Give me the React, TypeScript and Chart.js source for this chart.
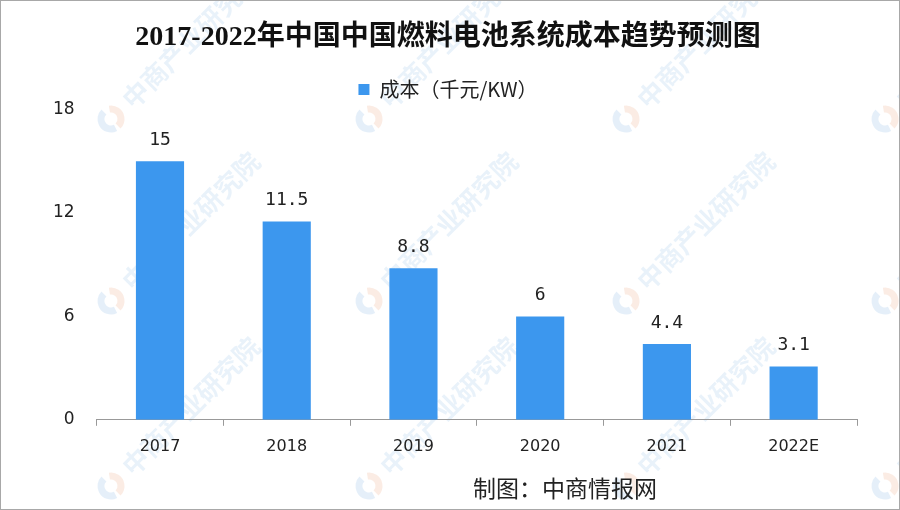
import React, { useEffect, useRef } from "react";
import { Chart, registerables } from "chart.js";

Chart.register(...registerables);

const categories = ["2017", "2018", "2019", "2020", "2021", "2022E"];
const costValues = [15, 11.5, 8.8, 6, 4.4, 3.1];
const valueLabels = ["15", "11.5", "8.8", "6", "4.4", "3.1"];
const yTicks = [0, 6, 12, 18];
const titleText = "2017-2022年中国中国燃料电池系统成本趋势预测图";
const seriesName = "成本（千元/KW）";
const footerText = "制图：中商情报网";
const watermarkText = "中商产业研究院";

const BAR_COLOR = "#3c97ee";

const labelPlugin = {
  id: "barLabels",
  afterDatasetsDraw(chart: any) {
    const ctx = chart.ctx;
    const meta = chart.getDatasetMeta(0);
    ctx.save();
    ctx.font = '18px "DejaVu Sans Mono", "Noto Sans CJK SC", monospace';
    ctx.fillStyle = "#222";
    ctx.textAlign = "center";
    ctx.textBaseline = "bottom";
    meta.data.forEach((bar: any, i: number) => {
      ctx.fillText(valueLabels[i], bar.x, bar.y - 12);
    });
    ctx.restore();
  },
};

const footerPlugin = {
  id: "footerText",
  afterDraw(chart: any) {
    const ctx = chart.ctx;
    ctx.save();
    ctx.font = '23px "Noto Sans CJK SC", sans-serif';
    ctx.fillStyle = "#222";
    ctx.textAlign = "left";
    ctx.textBaseline = "middle";
    ctx.fillText(footerText, 472, 487);
    ctx.restore();
  },
};

const watermarkPlugin = {
  id: "watermark",
  beforeDraw(chart: any) {
    const ctx = chart.ctx;
    const xs = [110, 368, 625, 884];
    const ys = [118, 300, 485];
    ctx.save();
    ys.forEach((y) => {
      xs.forEach((x) => {
        ctx.save();
        ctx.translate(x, y);
        ctx.globalAlpha = 0.16;
        ctx.lineWidth = 7;
        ctx.beginPath();
        ctx.arc(0, 0, 10, Math.PI * 0.35, Math.PI * 1.25);
        ctx.strokeStyle = "#5b9bd8";
        ctx.stroke();
        ctx.beginPath();
        ctx.arc(0, 0, 10, Math.PI * 1.45, Math.PI * 0.25 + Math.PI * 2);
        ctx.strokeStyle = "#e8875a";
        ctx.stroke();
        ctx.rotate(-Math.PI / 4);
        ctx.globalAlpha = 0.12;
        ctx.fillStyle = "#4a90d9";
        ctx.font = 'bold 26px "Noto Sans CJK SC", sans-serif';
        ctx.textBaseline = "middle";
        ctx.textAlign = "left";
        ctx.fillText(watermarkText, 22, 0);
        ctx.restore();
      });
    });
    ctx.restore();
  },
};

export default function App() {
  const ref = useRef<HTMLCanvasElement | null>(null);

  useEffect(() => {
    document.body.style.margin = "0";
    if (!ref.current) return;
    const chart = new Chart(ref.current, {
      type: "bar",
      data: {
        labels: categories,
        datasets: [
          {
            label: seriesName,
            data: costValues,
            backgroundColor: BAR_COLOR,
            barPercentage: 0.38,
            categoryPercentage: 1,
          },
        ],
      },
      options: {
        animation: false,
        responsive: false,
        maintainAspectRatio: false,
        layout: { padding: { left: 38, right: 42, top: 0, bottom: 42 } },
        plugins: {
          title: {
            display: true,
            text: titleText,
            color: "#111",
            font: { family: '"Liberation Serif", "Noto Sans CJK SC", serif', size: 28, weight: "bold" },
            padding: { top: 20, bottom: 15 },
          },
          legend: {
            display: true,
            labels: {
              boxWidth: 11,
              boxHeight: 11,
              color: "#222",
              font: { family: '"Noto Sans CJK SC", sans-serif', size: 20 },
              padding: 10,
            },
          },
          tooltip: { enabled: false },
        },
        scales: {
          x: {
            offset: true,
            grid: {
              display: true,
              offset: true,
              drawOnChartArea: false,
              drawTicks: true,
              tickLength: 6,
              color: "#999",
            },
            border: { display: true, color: "#999" },
            ticks: {
              color: "#222",
              font: { family: '"DejaVu Sans", sans-serif', size: 16 },
              padding: 11,
            },
          },
          y: {
            min: 0,
            max: 18,
            afterBuildTicks(axis: any) {
              axis.ticks = yTicks.map((v) => ({ value: v }));
            },
            grid: { display: false },
            border: { display: false },
            ticks: {
              color: "#222",
              font: { family: '"DejaVu Sans", sans-serif', size: 17 },
              padding: 14,
            },
          },
        },
      },
      plugins: [watermarkPlugin, labelPlugin, footerPlugin],
    });
    return () => chart.destroy();
  }, []);

  return (
    <div
      style={{
        position: "relative",
        width: 900,
        height: 510,
        boxSizing: "border-box",
        border: "1px solid #a8a8a8",
        background: "#fff",
        overflow: "hidden",
      }}
    >
      <canvas ref={ref} width={898} height={508} style={{ display: "block" }} />
    </div>
  );
}
